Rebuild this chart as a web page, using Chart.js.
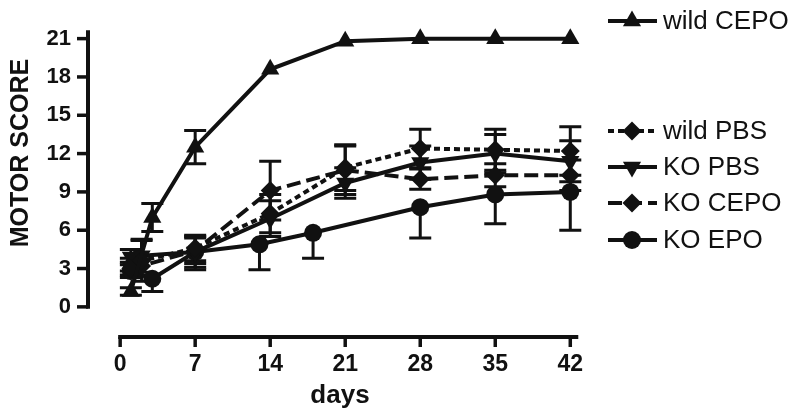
<!DOCTYPE html>
<html>
<head>
<meta charset="utf-8">
<title>Motor score</title>
<script src="https://cdn.jsdelivr.net/npm/chart.js@4.4.0/dist/chart.umd.min.js"></script>
<style>
  body { margin: 0; background: #fff; }
  #wrap { width: 800px; height: 420px; }
</style>
</head>
<body>
<div id="wrap"><canvas id="motorChart" width="800" height="420"></canvas></div>
<script>
// days each group was scored
const daysStd = [1, 2, 7, 14, 21, 28, 35, 42];
const daysWildCepo = [1, 3, 7, 14, 21, 28, 35, 42];
const daysKoEpo = [1, 3, 7, 13, 18, 28, 35, 42];

// mean motor score + error
const wildCepo    = [1.2, 7.0, 12.5, 18.6, 20.8, 21.0, 21.0, 21.0];
const wildCepoErr = [0.3, 1.1, 1.3, 0, 0, 0, 0, 0];
const wildPbs     = [3.0, 3.6, 4.6, 7.3, 10.9, 12.4, 12.3, 12.2];
const wildPbsErr  = [0.5, 1.6, 1.0, 1.5, 1.8, 1.5, 1.6, 1.9];
const koPbs       = [3.9, 4.0, 4.3, 6.9, 9.7, 11.3, 12.0, 11.4];
const koPbsErr    = [0.6, 1.3, 1.2, 1.4, 1.2, 1.3, 1.5, 1.6];
const koCepo      = [3.3, 3.2, 4.4, 9.1, 10.7, 10.0, 10.3, 10.3];
const koCepoErr   = [0.5, 0.8, 1.0, 2.3, 1.9, 0.8, 0.9, 1.2];
const koEpo       = [2.8, 2.2, 4.3, 4.9, 5.8, 7.8, 8.8, 9.0];
const koEpoErr    = [0.5, 1.0, 1.4, 2.0, 2.0, 2.4, 2.3, 3.0];

const xTicks = [0, 7, 14, 21, 28, 35, 42];
const yTicks = [0, 3, 6, 9, 12, 15, 18, 21];

const INK = '#111';
const FONT = '"Liberation Sans", Arial, sans-serif';

function pts(days, vals) {
    return days.map((d, i) => ({ x: d, y: vals[i] }));
}

function makeSet(label, days, vals, errs, opts) {
    return Object.assign({
        label: label,
        data: pts(days, vals),
        errs: errs,
        errDir: 'both',
        borderColor: INK,
        backgroundColor: INK,
        borderWidth: 4,
        pointBorderWidth: 0,
        pointHoverRadius: 9,
        tension: 0,
        clip: false
    }, opts);
}

const datasets = [
    makeSet('wild CEPO', daysWildCepo, wildCepo, wildCepoErr,
        { pointStyle: 'triangle', pointRadius: 10.5, legendY: 21 }),
    makeSet('wild PBS', daysStd, wildPbs, wildPbsErr,
        { pointStyle: 'rectRot', pointRadius: 9.5, borderDash: [6, 4], legendY: 131 }),
    makeSet('KO PBS', daysStd, koPbs, koPbsErr,
        { pointStyle: 'triangle', pointRotation: 180, pointRadius: 10.5, legendY: 167 }),
    makeSet('KO CEPO', daysStd, koCepo, koCepoErr,
        { pointStyle: 'rectRot', pointRadius: 9.5, borderDash: [14, 6], legendY: 203 }),
    makeSet('KO EPO', daysKoEpo, koEpo, koEpoErr,
        { pointStyle: 'circle', pointRadius: 9, errDir: 'down', legendY: 240 })
];

// small marker painter for the legend
function marker(ctx, style, rot, x, y, r) {
    ctx.beginPath();
    if (style === 'circle') {
        ctx.arc(x, y, r, 0, Math.PI * 2);
    } else if (style === 'rectRot') {
        ctx.moveTo(x, y - r); ctx.lineTo(x + r, y); ctx.lineTo(x, y + r); ctx.lineTo(x - r, y);
    } else {
        const s = rot === 180 ? -1 : 1;
        ctx.moveTo(x, y - s * r);
        ctx.lineTo(x + r * 0.866, y + s * r * 0.5);
        ctx.lineTo(x - r * 0.866, y + s * r * 0.5);
    }
    ctx.closePath();
    ctx.fill();
}

const prismAxes = {
    id: 'prismAxes',
    beforeDatasetsDraw(chart) {
        const ctx = chart.ctx;
        const xs = chart.scales.x, ys = chart.scales.y;
        ctx.save();
        ctx.strokeStyle = INK;
        ctx.fillStyle = INK;
        ctx.lineCap = 'butt';

        // y axis
        const ax = chart.chartArea.left;
        ctx.lineWidth = 4;
        ctx.beginPath();
        ctx.moveTo(ax, ys.getPixelForValue(0) + 2);
        ctx.lineTo(ax, chart.chartArea.top);
        ctx.stroke();
        ctx.lineWidth = 3.5;
        yTicks.forEach(v => {
            const py = ys.getPixelForValue(v);
            ctx.beginPath();
            ctx.moveTo(ax - 11, py);
            ctx.lineTo(ax, py);
            ctx.stroke();
        });

        // x axis (offset below the plot)
        const ay = chart.chartArea.bottom;
        ctx.lineWidth = 4;
        ctx.beginPath();
        ctx.moveTo(xs.getPixelForValue(0) - 2, ay);
        ctx.lineTo(xs.getPixelForValue(42) + 8, ay);
        ctx.stroke();
        ctx.lineWidth = 3.5;
        xTicks.forEach(v => {
            const px = xs.getPixelForValue(v);
            ctx.beginPath();
            ctx.moveTo(px, ay);
            ctx.lineTo(px, ay + 10);
            ctx.stroke();
        });

        // error bars
        ctx.lineWidth = 3;
        chart.data.datasets.forEach(ds => {
            ds.data.forEach((p, i) => {
                const e = ds.errs[i];
                if (!e) return;
                const px = xs.getPixelForValue(p.x);
                const lo = ys.getPixelForValue(p.y - e);
                const hi = ys.getPixelForValue(ds.errDir === 'down' ? p.y : p.y + e);
                ctx.beginPath();
                ctx.moveTo(px, lo); ctx.lineTo(px, hi);
                ctx.moveTo(px - 11, lo); ctx.lineTo(px + 11, lo);
                if (ds.errDir !== 'down') { ctx.moveTo(px - 11, hi); ctx.lineTo(px + 11, hi); }
                ctx.stroke();
            });
        });

        // axis titles
        ctx.font = 'bold 25px ' + FONT;
        ctx.textAlign = 'center';
        ctx.textBaseline = 'middle';
        ctx.save();
        ctx.translate(21, 153);
        ctx.rotate(-Math.PI / 2);
        ctx.fillText('MOTOR SCORE', 0, 0);
        ctx.restore();
        ctx.font = 'bold 26px ' + FONT;
        ctx.fillText('days', 340, 396);
        ctx.restore();
    },
    afterDraw(chart) {
        const ctx = chart.ctx;
        ctx.save();
        ctx.strokeStyle = INK;
        ctx.fillStyle = INK;
        ctx.font = '26px ' + FONT;
        ctx.textBaseline = 'middle';
        chart.data.datasets.forEach(ds => {
            const y = ds.legendY;
            ctx.lineWidth = 4;
            ctx.setLineDash(ds.borderDash || []);
            ctx.beginPath();
            ctx.moveTo(608, y);
            ctx.lineTo(657, y);
            ctx.stroke();
            ctx.setLineDash([]);
            marker(ctx, ds.pointStyle, ds.pointRotation, 632, y, ds.pointRadius);
            ctx.fillText(ds.label, 663, y + 1);
        });
        ctx.restore();
    }
};

new Chart(document.getElementById('motorChart'), {
    type: 'line',
    data: { datasets: datasets },
    options: {
        responsive: false,
        animation: false,
        devicePixelRatio: 1,
        layout: { padding: { top: 11, right: 219, left: 0, bottom: 0 } },
        plugins: {
            legend: { display: false },
            tooltip: { enabled: false }
        },
        scales: {
            x: {
                type: 'linear',
                min: -3,
                max: 43,
                afterFit: s => { s.height = 83; },
                afterBuildTicks: s => { s.ticks = xTicks.map(v => ({ value: v })); },
                grid: { display: false, drawTicks: false },
                border: { display: false },
                ticks: {
                    padding: 14,
                    color: INK,
                    maxRotation: 0,
                    autoSkip: false,
                    font: { family: FONT, size: 23, weight: 'bold' }
                }
            },
            y: {
                type: 'linear',
                min: -2.36,
                max: 21.66,
                afterFit: s => { s.width = 88; },
                afterBuildTicks: s => { s.ticks = yTicks.map(v => ({ value: v })); },
                grid: { display: false, drawTicks: false },
                border: { display: false },
                ticks: {
                    padding: 17,
                    color: INK,
                    autoSkip: false,
                    font: { family: FONT, size: 22, weight: 'bold' }
                }
            }
        }
    },
    plugins: [prismAxes]
});
</script>
</body>
</html>
